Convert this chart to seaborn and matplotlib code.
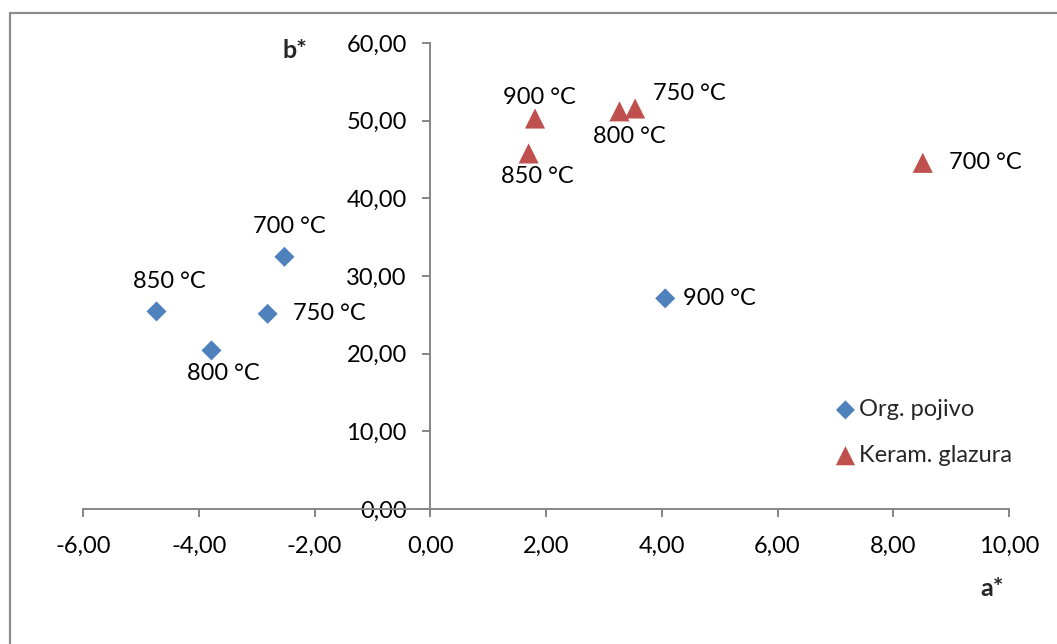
import matplotlib
matplotlib.use("Agg")
import matplotlib.pyplot as plt
import seaborn as sns
import pandas as pd
from matplotlib.ticker import FuncFormatter
from matplotlib.lines import Line2D

# ---- data ----
temps = ["700 °C", "750 °C", "800 °C", "850 °C", "900 °C"]
org_a = [-2.52, -2.81, -3.78, -4.73, 4.06]
org_b = [32.47, 25.13, 20.42, 25.44, 27.12]
ker_a = [8.51, 3.54, 3.27, 1.70, 1.81]
ker_b = [44.57, 51.57, 51.20, 45.78, 50.28]
series_names = ["Org. pojivo", "Keram. glazura"]
x_ticks = [-6, -4, -2, 0, 2, 4, 6, 8, 10]
y_ticks = [0, 10, 20, 30, 40, 50, 60]

df_org = pd.DataFrame({"a": org_a, "b": org_b, "T": temps, "s": series_names[0]})
df_ker = pd.DataFrame({"a": ker_a, "b": ker_b, "T": temps, "s": series_names[1]})

sns.set_style("white")
plt.rcParams["font.family"] = ["Lato", "DejaVu Sans"]
FS = 17

W, H = 1057, 644
fig = plt.figure(figsize=(W / 100, H / 100), dpi=100)
ax = fig.add_axes([83 / W, 1 - 509 / H, (1009 - 83) / W, (509 - 43) / H])

blue = "#4F81BD"
red = "#C0504D"
sns.scatterplot(data=df_org, x="a", y="b", marker="D", color=blue, s=104,
                edgecolor="none", ax=ax, label=series_names[0], zorder=3)
sns.scatterplot(data=df_ker, x="a", y="b", marker="^", color=red, s=210,
                edgecolor="none", ax=ax, label=series_names[1], zorder=3)

ax.set_xlim(-6, 10)
ax.set_ylim(0, 60)
ax.set_xticks(x_ticks)
ax.set_yticks(y_ticks)
fmt = FuncFormatter(lambda v, p: f"{v:.2f}".replace(".", ","))
ax.xaxis.set_major_formatter(fmt)
ax.yaxis.set_major_formatter(fmt)
ax.set_xlabel("")
ax.set_ylabel("")

gray = "#868686"
for side in ["top", "right"]:
    ax.spines[side].set_visible(False)
ax.spines["left"].set_position(("data", 0))
ax.spines["bottom"].set_position(("data", 0))
for side in ["left", "bottom"]:
    ax.spines[side].set_color(gray)
    ax.spines[side].set_linewidth(1.4)
ax.tick_params(axis="both", direction="out", length=6, width=1.4, color=gray,
               labelsize=FS, labelcolor="black")
ax.tick_params(axis="x", pad=13, bottom=True)
ax.tick_params(axis="y", pad=11, left=True)

# data labels: (dx, dy) in pixels, ha
org_place = [(5, 30, "center"), (25, 0, "left"), (12, -23, "center"),
             (13, 30, "center"), (18, 0, "left")]
ker_place = [(26, 0, "left"), (18, 15, "left"), (10, -25, "center"),
             (9, -23, "center"), (4, 21, "center")]
for xs, ys, place in [(org_a, org_b, org_place), (ker_a, ker_b, ker_place)]:
    for x, y, t, (dx, dy, ha) in zip(xs, ys, temps, place):
        ax.annotate(t, (x, y), xytext=(dx, dy), textcoords="offset pixels",
                    ha=ha, va="center", fontsize=FS, color="black")

# axis titles
fig.text(295 / W, 1 - 50 / H, "b*", fontsize=FS + 1, fontweight="bold",
         ha="center", va="center")
fig.text(992 / W, 1 - 588 / H, "a*", fontsize=FS + 1, fontweight="bold",
         ha="center", va="center")

leg = ax.legend(loc="center left", bbox_to_anchor=(823 / W, 1 - 432.5 / H),
                bbox_transform=fig.transFigure, frameon=False, fontsize=FS,
                borderpad=0, handlelength=0.9, handletextpad=0.13,
                labelspacing=1.05, markerscale=0.95)

# chart-area frame (left and top visible)
fx, fy = 10 / W, 1 - 13 / H
fig.add_artist(Line2D([fx, fx], [0, fy], transform=fig.transFigure,
                      color="#8c8c8c", lw=1.6))
fig.add_artist(Line2D([fx, 1], [fy, fy], transform=fig.transFigure,
                      color="#8c8c8c", lw=1.6))

fig.savefig("out.png", dpi=100)
